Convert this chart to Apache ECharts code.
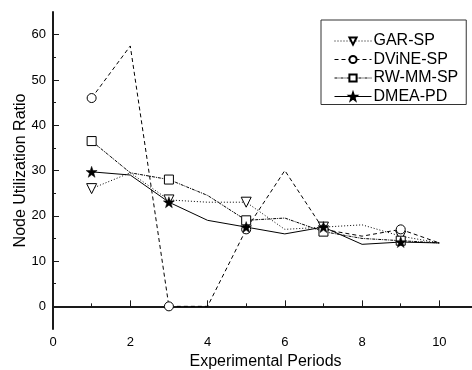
<!DOCTYPE html>
<html lang="en">
<head>
    <meta charset="UTF-8">
    <title>Node Utilization Ratio</title>
    <script src="https://cdn.jsdelivr.net/npm/echarts@6/dist/echarts.min.js"></script>
    <style>
        body { margin: 0; background: #fff; }
    </style>
</head>
<body>
<div id="main" style="width: 472px;height:370px;"></div>
<script>
    // data
    var periods = [1, 2, 3, 4, 5, 6, 7, 8, 9, 10];
    var garSP = [26, 29.5, 23.5, 23, 23, 17, 17.5, 18, 15.5, 14];
    var dvineSP = [46, 57.5, 0, 0, 17, 30, 17, 15.5, 17, 14];
    var rwmmSP = [36.5, 29.5, 28, 24.5, 19, 19.5, 16.5, 15, 14.5, 14];
    var dmeaPD = [29.7, 29, 23, 19, 17.5, 16, 17.5, 13.7, 14.2, 14];
    var xLabels = [0, 2, 4, 6, 8, 10];
    var xMinor = [1, 3, 5, 7, 9];
    var yLabels = [0, 10, 20, 30, 40, 50, 60];
    var yMinor = [5, 15, 25, 35, 45, 55];

    var star = 'path://M0,-10L2.35,-3.24L9.51,-3.09L3.8,1.24L5.88,8.09L0,4L-5.88,8.09L-3.8,1.24L-9.51,-3.09L-2.35,-3.24Z';

    // markers only sit on the odd periods
    function points(ys) {
        return periods.map(function (p, i) {
            var item = {value: [p, ys[i]]};
            if (p % 2 === 0) item.symbol = 'none';
            return item;
        });
    }

    function makeSeries(name, ys, symbol, dash, opts) {
        var s = {
            name: name,
            type: 'line',
            data: points(ys),
            symbol: symbol,
            symbolSize: 9,
            showAllSymbol: true,
            lineStyle: {color: '#000', width: 1, type: dash},
            itemStyle: {color: '#fff', borderColor: '#000', borderWidth: 1},
            emphasis: {disabled: true},
            z: 3
        };
        for (var k in opts) s[k] = opts[k];
        return s;
    }

    var font = 'Liberation Sans, Arial, sans-serif';
    var axisLineStyle = {color: '#1a1a1a', width: 2};

    var option = {
        animation: false,
        textStyle: {fontFamily: font},
        grid: {left: 53, top: 12, width: 425, height: 317, outerBoundsMode: 'none'},
        legend: {
            orient: 'vertical',
            left: 321,
            top: 20,
            width: 140,
            padding: [13, 8, 0, 13],
            borderColor: '#333',
            borderWidth: 1,
            itemWidth: 37,
            itemHeight: 9,
            itemGap: 2.5,
            lineStyle: {width: 1},
            textStyle: {fontSize: 16, color: '#000', fontFamily: font, lineHeight: 16, padding: [0, 0, 0, -3]},
            data: ['GAR-SP', 'DViNE-SP', 'RW-MM-SP', 'DMEA-PD']
        },
        xAxis: [{
            type: 'value',
            min: 0,
            max: 11,
            position: 'bottom',
            name: 'Experimental Periods',
            nameLocation: 'middle',
            nameGap: 25,
            nameMoveOverlap: false,
            nameTextStyle: {fontSize: 16, color: '#000', fontFamily: font},
            axisLine: {lineStyle: axisLineStyle},
            axisTick: {inside: true, length: 6, customValues: xLabels, lineStyle: {color: '#1a1a1a'}},
            axisLabel: {customValues: xLabels, fontSize: 13, color: '#000', margin: 7},
            splitLine: {show: false}
        }, {
            type: 'value',
            min: 0,
            max: 11,
            position: 'bottom',
            axisLine: {show: false},
            axisTick: {inside: true, length: 3, customValues: xMinor, lineStyle: {color: '#1a1a1a'}},
            axisLabel: {show: false},
            splitLine: {show: false}
        }],
        yAxis: [{
            type: 'value',
            min: -5,
            max: 65,
            position: 'left',
            name: 'Node Utilization Ratio',
            nameLocation: 'middle',
            nameGap: 24,
            nameMoveOverlap: false,
            nameTextStyle: {fontSize: 16, color: '#000', fontFamily: font},
            axisLine: {show: true, lineStyle: axisLineStyle},
            axisTick: {show: true, inside: true, length: 6, customValues: yLabels, lineStyle: {color: '#1a1a1a'}},
            axisLabel: {customValues: yLabels, fontSize: 13, color: '#000', margin: 7},
            splitLine: {show: false}
        }, {
            type: 'value',
            min: -5,
            max: 65,
            position: 'left',
            axisLine: {show: false},
            axisTick: {show: true, inside: true, length: 3, customValues: yMinor, lineStyle: {color: '#1a1a1a'}},
            axisLabel: {show: false},
            splitLine: {show: false}
        }],
        series: [
            makeSeries('GAR-SP', garSP, 'triangle', [1, 2], {symbolRotate: 180, symbolSize: 10}),
            makeSeries('DViNE-SP', dvineSP, 'circle', [4, 3], {}),
            makeSeries('RW-MM-SP', rwmmSP, 'rect', [3, 1, 1, 1], {}),
            makeSeries('DMEA-PD', dmeaPD, star, 'solid', {
                symbolSize: 11,
                itemStyle: {color: '#000', borderColor: '#000', borderWidth: 0.5}
            })
        ]
    };

    var myChart = echarts.init(document.getElementById('main'), null, {renderer: 'canvas'});
    myChart.setOption(option);
</script>
</body>
</html>
